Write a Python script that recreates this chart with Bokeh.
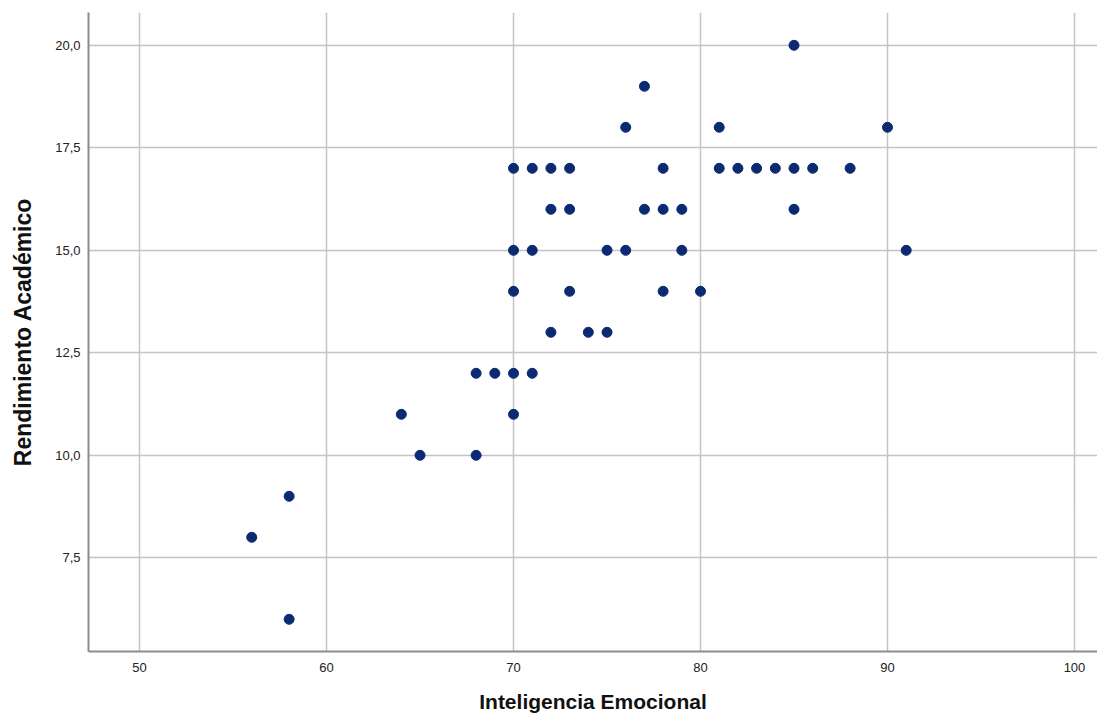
from bokeh.plotting import figure
from bokeh.models import FixedTicker, CustomJSTickFormatter, ColumnDataSource
from bokeh.embed import file_html
from bokeh.resources import INLINE

inteligencia = [85, 77, 76, 81, 90,
                70, 71, 72, 73, 78, 81, 82, 83, 84, 85, 86, 88,
                72, 73, 77, 78, 79, 85,
                70, 71, 75, 76, 79, 91,
                70, 73, 78, 80,
                72, 74, 75,
                68, 69, 70, 71,
                64, 70,
                65, 68,
                58, 56, 58]
rendimiento = [20, 19, 18, 18, 18,
               17, 17, 17, 17, 17, 17, 17, 17, 17, 17, 17, 17,
               16, 16, 16, 16, 16, 16,
               15, 15, 15, 15, 15, 15,
               14, 14, 14, 14,
               13, 13, 13,
               12, 12, 12, 12,
               11, 11,
               10, 10,
               9, 8, 6]
x_ticks = [50, 60, 70, 80, 90, 100]
y_ticks = [7.5, 10.0, 12.5, 15.0, 17.5, 20.0]

src = ColumnDataSource(dict(x=inteligencia, y=rendimiento))

p = figure(width=1097, height=716, x_range=(47.27, 101.23), y_range=(5.215, 20.8),
           output_backend="svg", toolbar_location=None,
           min_border_left=88, min_border_right=0, min_border_top=12, min_border_bottom=65)
p.outline_line_color = None
p.background_fill_color = "white"

p.scatter("x", "y", source=src, size=10, fill_color="#0b2a72", line_color="#0b2a72")

p.xaxis.ticker = FixedTicker(ticks=x_ticks)
p.yaxis.ticker = FixedTicker(ticks=y_ticks)
p.yaxis.formatter = CustomJSTickFormatter(code="return tick.toFixed(1).replace('.', ',');")

for ax in (p.xaxis[0], p.yaxis[0]):
    ax.axis_line_color = "#8c8c8c"
    ax.axis_line_width = 2
    ax.major_tick_line_color = None
    ax.minor_tick_line_color = None
    ax.major_label_text_font = "Liberation Sans"
    ax.major_label_text_font_size = "13px"
    ax.major_label_text_color = "#222222"
    ax.axis_label_text_font = "Liberation Sans"
    ax.axis_label_text_font_style = "bold"
    ax.axis_label_text_color = "#111111"

p.xaxis.axis_label = "Inteligencia Emocional"
p.yaxis.axis_label = "Rendimiento Académico"
p.xaxis.axis_label_text_font_size = "21px"
p.yaxis.axis_label_text_font_size = "23px"
p.xaxis.major_label_standoff = 5
p.xaxis.axis_label_standoff = 15
p.yaxis.major_label_standoff = 2
p.yaxis.axis_label_standoff = 16

p.xgrid.ticker = FixedTicker(ticks=x_ticks)
p.ygrid.ticker = FixedTicker(ticks=y_ticks)
p.xgrid.grid_line_color = "#c4c4c4"
p.ygrid.grid_line_color = "#c4c4c4"
p.xgrid.grid_line_width = 1.5
p.ygrid.grid_line_width = 1.5

open("out.html", "w").write(file_html(p, INLINE))
